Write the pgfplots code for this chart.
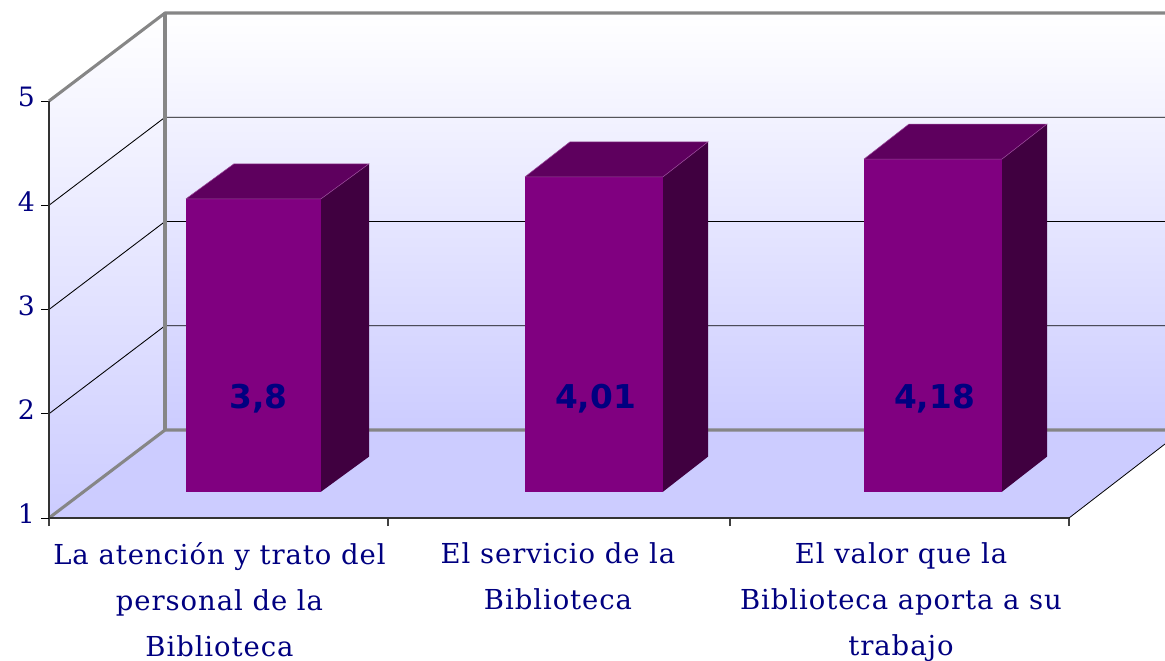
\documentclass[border=0pt]{standalone}
\usepackage{fontspec}
\setmainfont{DejaVu Serif}
\newfontfamily\valfont{DejaVu Sans}
\newfontfamily\catfont[LetterSpace=3.4]{DejaVu Serif}
\usepackage{pgfplots}
\pgfplotsset{compat=1.18}
\definecolor{navy}{HTML}{000080}
\definecolor{wallb}{HTML}{CCCCFF}
\definecolor{edge}{HTML}{868686}
\definecolor{front}{HTML}{800080}
\definecolor{topf}{HTML}{5E005E}
\definecolor{sidef}{HTML}{400040}
\definecolor{hl}{HTML}{9A4A9A}
\begin{document}
\begin{tikzpicture}
\useasboundingbox (-36.75pt,-107.25pt) rectangle (837pt,388.5pt);
% frame: x in picture columns, y in scale values on the left wall
\begin{axis}[
  at={(0pt,0pt)}, anchor=south west,
  scale only axis, width=837pt, height=388.5pt,
  xmin=49, xmax=1165, ymin=1, ymax=5.969,
  clip=false,
  axis line style={draw=none},
  ytick={1,2,3,4,5},
  xtick={219.5,558,901},
  xticklabels={{La atención y trato del\\personal de la\\Biblioteca},{El servicio de la\\Biblioteca},{El valor que la\\Biblioteca aporta a su\\trabajo}},
  minor xtick={49,388,730,1069},
  xtick pos=bottom, ytick pos=left,
  tick align=outside,
  major x tick style={draw=none},
  major tick length=6pt, minor tick length=6pt,
  y tick style={black, line width=0.6pt},
  minor x tick style={black!75, line width=0.8pt},
  xticklabel style={font=\catfont\fontsize{20.6pt}{34.2pt}\selectfont, text=navy, align=center, anchor=north, yshift=-9.2pt},
  yticklabel style={font=\fontsize{20pt}{24pt}\selectfont, text=navy, xshift=-1pt, yshift=3pt},
  /pgf/number format/assume math mode=true,
]
% walls and floor
\addplot[shade, draw=none, top color=white, bottom color=wallb] coordinates {(49,5) (165,5.844) (165,1.844) (49,1)};
\addplot[shade, draw=none, top color=white, bottom color=wallb] coordinates {(165,5.844) (1165,5.844) (1165,1.844) (165,1.844)};
\addplot[fill=wallb, draw=none] coordinates {(49,1) (165,1.844) (1165,1.844) (1165,1.71) (1069,1)};
% gridlines
\foreach \v in {2,3,4}{
  \edef\tmp{\noexpand\addplot[black, line width=0.65pt] coordinates {(49,\v) (165,\v.844) (1165,\v.844)};}
  \tmp
}
% frame edges
\addplot[edge, line width=2.3pt, line join=round] coordinates {(49,5) (165,5.844) (1165,5.844)};
\addplot[edge, line width=2.6pt] coordinates {(165,5.844) (165,1.844)};
\addplot[edge, line width=2.3pt, line join=round] coordinates {(49,1) (165,1.844) (1165,1.844)};
\addplot[black!80, line width=1.2pt] coordinates {(49,5) (49,1)};
\addplot[black!80, line width=1.1pt] coordinates {(49,1) (1069,1)};
\addplot[black, line width=0.6pt] coordinates {(1069,1) (1165,1.71)};
\end{axis}
% bars: base on the floor, same columns, scale values
\begin{axis}[
  at={(0pt,19.725pt)}, anchor=south west,
  scale only axis, width=837pt, height=368.775pt,
  xmin=49, xmax=1165, ymin=1, ymax=5.7008,
  clip=false, hide axis,
]
\addplot[ybar, bar width=135, bar shift=0pt, fill=front, draw=none] coordinates {(253.5,3.8)};
\addplot[ybar, bar width=138, bar shift=0pt, fill=front, draw=none] coordinates {(594,4.01)};
\addplot[ybar, bar width=138, bar shift=0pt, fill=front, draw=none] coordinates {(933,4.18)};
% side faces
\addplot[fill=sidef, draw=none] coordinates {(321,1) (369,1.335) (369,4.135) (321,3.8)};
\addplot[fill=sidef, draw=none] coordinates {(663,1) (708,1.335) (708,4.345) (663,4.01)};
\addplot[fill=sidef, draw=none] coordinates {(1002,1) (1047,1.335) (1047,4.515) (1002,4.18)};
% top faces
\addplot[fill=topf, draw=none] coordinates {(186,3.8) (321,3.8) (369,4.135) (234,4.135)};
\addplot[fill=topf, draw=none] coordinates {(525,4.01) (663,4.01) (708,4.345) (570,4.345)};
\addplot[fill=topf, draw=none] coordinates {(864,4.18) (1002,4.18) (1047,4.515) (909,4.515)};
% light edges
\addplot[hl, line width=0.4pt] coordinates {(186,3.8) (321,3.8) (369,4.135) (234,4.135) (186,3.8)};
\addplot[hl, line width=0.4pt] coordinates {(525,4.01) (663,4.01) (708,4.345) (570,4.345) (525,4.01)};
\addplot[hl, line width=0.4pt] coordinates {(864,4.18) (1002,4.18) (1047,4.515) (909,4.515) (864,4.18)};
\node[anchor=base, text=navy, font=\valfont\bfseries\fontsize{24.6pt}{28pt}\selectfont] at (axis cs:258.5,1.80) {3,8};
\node[anchor=base, text=navy, font=\valfont\bfseries\fontsize{24.6pt}{28pt}\selectfont] at (axis cs:595.5,1.80) {4,01};
\node[anchor=base, text=navy, font=\valfont\bfseries\fontsize{24.6pt}{28pt}\selectfont] at (axis cs:934.5,1.80) {4,18};
\end{axis}
\end{tikzpicture}
\end{document}
